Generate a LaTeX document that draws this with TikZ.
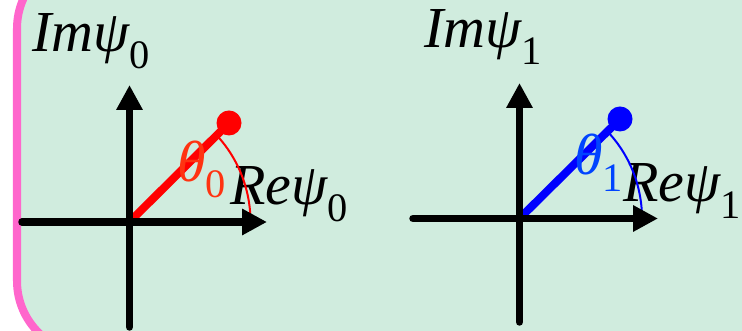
\documentclass[tikz,border=0pt]{standalone}
\usepackage{fontspec}
\setmainfont{Liberation Serif}
\usetikzlibrary{arrows.meta}
\definecolor{panelgreen}{RGB}{208,236,222}
\definecolor{panelpink}{RGB}{255,102,204}
\definecolor{thetared}{RGB}{255,51,17}
\definecolor{thetablue}{RGB}{0,68,255}
\newcommand{\lowidx}[1]{\raisebox{-0.28em}{\fontsize{23}{25}\selectfont\upshape #1}}

\begin{document}
\begin{tikzpicture}[
  axis/.style={line width=0.15cm, line cap=round, -{Triangle[length=0.5cm,width=0.5cm]}},
  vec/.style={line width=0.16cm},
  arcline/.style={line width=0.04cm},
  lbl/.style={anchor=base west, inner sep=0pt, font=\fontsize{33}{37}\selectfont\itshape}
]
	\useasboundingbox (0,0) rectangle (14.84,6.62);
	\clip (0,0) rectangle (14.84,6.62);
	\draw[panelpink, line width=0.16cm, rounded corners=1.45cm, fill=panelgreen] (0.34,-0.45) rectangle (16,7.5);

	% left plane
	\coordinate (O0) at (2.59,2.18);
	\coordinate (P0) at (4.58,4.16);
	\node[lbl] (im0) at (0.64,5.58) {Imψ\lowidx{0}};
	\node[lbl] (re0) at (4.60,2.52) {Reψ\lowidx{0}};
	\draw[vec, red] (O0) -- (P0);
	\draw[arcline, red] ([xshift=2.42cm]O0) arc[start angle=0, end angle=45, x radius=2.42cm, y radius=2.5cm];
	\draw[axis] ([xshift=-2.15cm]O0) -- ([xshift=2.75cm]O0);
	\draw[axis] ([yshift=-2.1cm]O0) -- ([yshift=2.74cm]O0);
	\fill[red] (P0) circle (0.25);
	\node[lbl, text=thetared] (th0) at (3.54,2.99) {θ\lowidx{0}};

	% right plane
	\coordinate (O1) at (10.39,2.25);
	\coordinate (P1) at (12.40,4.24);
	\node[lbl] (im1) at (8.48,5.66) {Imψ\lowidx{1}};
	\node[lbl] (re1) at (12.46,2.58) {Reψ\lowidx{1}};
	\draw[vec, blue] (O1) -- (P1);
	\draw[arcline, blue] ([xshift=2.45cm]O1) arc[start angle=0, end angle=45, x radius=2.45cm, y radius=2.5cm];
	\draw[axis] ([xshift=-2.13cm]O1) -- ([xshift=2.77cm]O1);
	\draw[axis] ([yshift=-2.07cm]O1) -- ([yshift=2.71cm]O1);
	\fill[blue] (P1) circle (0.25);
	\node[lbl, text=thetablue] (th1) at (11.48,3.12) {θ\lowidx{1}};
\end{tikzpicture}
\end{document}
